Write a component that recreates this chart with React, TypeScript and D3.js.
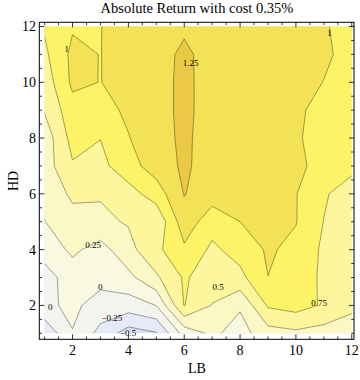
import React from "react";
import * as d3 from "d3";

// LB values along x, HD values along y
const lbValues = [1, 2, 3, 4, 5, 6, 7, 8, 9, 10, 11, 12];
const hdValues = [1, 2, 3, 4, 5, 6, 7, 8, 9, 10, 11, 12];

// Absolute return, one array per HD row (LB = 1..12)
const hd1 = [-0.45, -0.01, -0.33, -0.613, -0.52, 0.1, 0.3, 0.15, 0.4, 0.45, 0.4, 0.38];
const hd2 = [-0.05, 0.05, -0.1, -0.12, 0.005, 0.76, 0.49, 0.28, 0.78, 0.85, 0.72, 0.55];
const hd3 = [-0.1, 0.12, 0.08, 0.18, 0.46, 0.78, 0.62, 0.68, 0.998, 0.85, 0.717, 0.6];
const hd4 = [0.1, 0.3, 0.15, 0.42, 0.69, 0.955, 0.7, 0.85, 1.03, 0.94, 0.705, 0.58];
const hd5 = [0.245, 0.397, 0.45, 0.52, 0.55, 1.15, 0.85, 1.0, 1.06, 1.01, 0.745, 0.6];
const hd6 = [0.3, 0.553, 0.52, 0.65, 0.867, 1.26, 1.12, 1.1, 1.08, 1.01, 0.78, 0.62];
const hd7 = [0.38, 0.726, 0.68, 0.9, 1.12, 1.29, 1.14, 1.12, 1.1, 1.04, 0.94, 0.82];
const hd8 = [0.35, 0.84, 0.755, 0.99, 1.15, 1.3, 1.13, 1.13, 1.1, 1.03, 0.9, 0.86];
const hd9 = [0.52, 0.91, 0.92, 1.04, 1.17, 1.3, 1.16, 1.14, 1.12, 1.06, 0.89, 0.85];
const hd10 = [0.61, 1.05, 0.995, 1.1, 1.17, 1.3, 1.16, 1.14, 1.12, 1.1, 0.995, 0.9];
const hd11 = [0.7, 1.06, 0.995, 1.12, 1.15, 1.3, 1.15, 1.14, 1.12, 1.1, 1.041, 0.92];
const hd12 = [0.778, 0.975, 0.995, 1.1, 1.15, 1.21, 1.18, 1.15, 1.12, 1.08, 1.02, 0.92];
const rows = [hd1, hd2, hd3, hd4, hd5, hd6, hd7, hd8, hd9, hd10, hd11, hd12];

const contourLevels = [-0.5, -0.25, 0, 0.25, 0.5, 0.75, 1, 1.25];
const bandColors = [
  "#d9ddf3", "#e6e9f7", "#f3f4ee", "#f9f8e1", "#fcf8c5",
  "#fdf69c", "#fdf367", "#f4e256", "#ecc945",
];

const xTicks = [2, 4, 6, 8, 10, 12];
const yTicks = [2, 4, 6, 8, 10, 12];

// contour labels: text, LB, HD
const labelText = ["1", "1.25", "1", "0.25", "0", "0", "0.5", "0.75", "\u22120.25", "\u22120.5"];
const labelLB = [1.79, 6.23, 11.2, 2.74, 2.99, 1.2, 7.21, 10.83, 3.41, 3.99];
const labelHD = [11.19, 10.68, 11.75, 4.17, 2.67, 1.95, 2.66, 2.09, 1.55, 1.02];

const W = 360;
const H = 380;
const SERIF = "'Liberation Serif', 'DejaVu Serif', serif";

export default function App() {
  const x = d3.scaleLinear().domain([0.81, 12.08]).range([39.3, 354]);
  const y = d3.scaleLinear().domain([0.785, 12.15]).range([339.3, 22.3]);

  const nx = lbValues.length;
  const ny = hdValues.length;
  const values: number[] = [];
  rows.forEach((r) => r.forEach((v) => values.push(v)));

  const contours = d3.contours().size([nx, ny]).thresholds(contourLevels)(values);

  const proj = d3.geoTransform({
    point(px: number, py: number) {
      // grid index i sits at coordinate i + 0.5 -> value lbValues[i]
      const lb = lbValues[0] + (px - 0.5) * (lbValues[1] - lbValues[0]);
      const hd = hdValues[0] + (py - 0.5) * (hdValues[1] - hdValues[0]);
      (this as any).stream.point(x(lb), y(hd));
    },
  });
  const path = d3.geoPath(proj as any);

  const x0 = x(lbValues[0]);
  const x1 = x(lbValues[nx - 1]);
  const yTop = y(hdValues[ny - 1]);
  const yBot = y(hdValues[0]);

  const [fx0, fx1] = x.range();
  const [fyB, fyT] = y.range();

  const minor: number[] = d3.range(1, 12.01, 0.5);

  return (
    <svg width={W} height={H} style={{ display: "block", position: "absolute", left: 0, top: 0, background: "#fff" }}>
      <defs>
        <clipPath id="dataClip">
          <rect x={x0} y={yTop} width={x1 - x0} height={yBot - yTop} />
        </clipPath>
      </defs>
      <text x={197} y={12.5} textAnchor="middle" fontFamily={SERIF} fontSize={14.5} fill="#000">
        Absolute Return with cost 0.35%
      </text>
      <g clipPath="url(#dataClip)">
        <rect x={x0} y={yTop} width={x1 - x0} height={yBot - yTop} fill={bandColors[0]} />
        {contours.map((c, i) => (
          <path key={"f" + i} d={path(c as any) || ""} fill={bandColors[i + 1]} stroke="none" />
        ))}
        {contours.map((c, i) => (
          <path key={"l" + i} d={path(c as any) || ""} fill="none" stroke="#000" strokeOpacity={0.4} strokeWidth={0.9} strokeLinejoin="round" />
        ))}
      </g>
      {labelText.map((t, i) => (
        <text key={"lab" + i} x={x(labelLB[i])} y={y(labelHD[i]) + 3} textAnchor="middle" fontFamily={SERIF} fontSize={9} fill="#000">
          {t}
        </text>
      ))}
      {/* frame */}
      <rect x={fx0} y={fyT} width={fx1 - fx0} height={fyB - fyT} fill="none" stroke="#000" strokeWidth={1} />
      {minor.map((v) => {
        const major = xTicks.includes(v);
        const len = major ? 5 : 2.8;
        return (
          <g key={"xt" + v}>
            <line x1={x(v)} x2={x(v)} y1={fyB} y2={fyB - len} stroke="#000" strokeWidth={0.8} />
            <line x1={x(v)} x2={x(v)} y1={fyT} y2={fyT + len} stroke="#000" strokeWidth={0.8} />
          </g>
        );
      })}
      {minor.map((v) => {
        const major = yTicks.includes(v);
        const len = major ? 5 : 2.8;
        return (
          <g key={"yt" + v}>
            <line x1={fx0} x2={fx0 + len} y1={y(v)} y2={y(v)} stroke="#000" strokeWidth={0.8} />
            <line x1={fx1} x2={fx1 - len} y1={y(v)} y2={y(v)} stroke="#000" strokeWidth={0.8} />
          </g>
        );
      })}
      {xTicks.map((v) => (
        <text key={"xl" + v} x={x(v)} y={355} textAnchor="middle" fontFamily={SERIF} fontSize={14} fill="#000">
          {v}
        </text>
      ))}
      {yTicks.map((v) => (
        <text key={"yl" + v} x={36} y={y(v) + 5} textAnchor="end" fontFamily={SERIF} fontSize={14} fill="#000">
          {v}
        </text>
      ))}
      <text x={197} y={373} textAnchor="middle" fontFamily={SERIF} fontSize={14} fill="#000">
        LB
      </text>
      <text transform={`translate(18,181) rotate(-90)`} textAnchor="middle" fontFamily={SERIF} fontSize={14} fill="#000">
        HD
      </text>
    </svg>
  );
}
